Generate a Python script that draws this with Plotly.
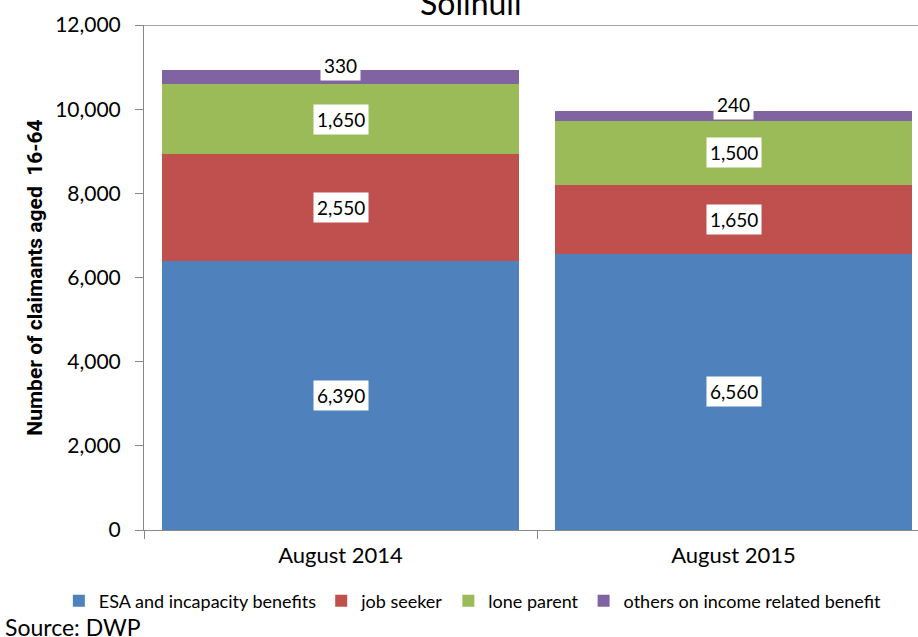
import plotly.graph_objects as go

categories = ["August 2014", "August 2015"]
series_names = ["ESA and incapacity benefits", "job seeker", "lone parent", "others on income related benefit"]
esa = [6390, 6560]
job_seeker = [2550, 1650]
lone_parent = [1650, 1500]
others = [330, 240]
colors = ["#4F81BD", "#C0504D", "#9BBB59", "#8064A2"]
y_ticks = [0, 2000, 4000, 6000, 8000, 10000, 12000]

series = [esa, job_seeker, lone_parent, others]
FONT = "Lato, 'Open Sans', Arial, sans-serif"

fig = go.Figure()
for name, vals, col in zip(series_names, series, colors):
    fig.add_trace(go.Bar(x=categories, y=vals, name=name, marker=dict(color=col, line=dict(width=0))))

annotations = []
for ci, cat in enumerate(categories):
    base = 0
    for si, vals in enumerate(series):
        v = vals[ci]
        center = base + v / 2
        annotations.append(dict(
            x=cat, y=center, xref="x", yref="y", text=f"{v:,}", showarrow=False,
            bgcolor="white", borderpad=3, font=dict(size=19, color="black", family=FONT),
            yshift=12 if si == 3 else 0,
        ))
        base += v

annotations.append(dict(x=0.4212, y=1.045, xref="paper", yref="paper", text="Solihull",
                        showarrow=False, yanchor="middle", font=dict(size=32, color="black", family=FONT)))
annotations.append(dict(x=-0.1822, y=-0.192, xref="paper", yref="paper", text="Source: DWP",
                        showarrow=False, xanchor="left", yanchor="middle",
                        font=dict(size=23, color="black", family=FONT)))

fig.update_layout(
    barmode="stack",
    bargap=0.092,
    width=918, height=637,
    margin=dict(l=144, r=0, t=25, b=107),
    paper_bgcolor="white", plot_bgcolor="white",
    font=dict(family=FONT, color="black", size=15),
    showlegend=True,
    legend=dict(orientation="h", xref="paper", yref="paper", x=-0.11, xanchor="left",
                y=-0.1406, yanchor="middle", itemwidth=30, tracegroupgap=0,
                font=dict(size=18, family=FONT), traceorder="normal"),
    annotations=annotations,
    xaxis=dict(range=[-0.5, -0.5 + 774 / 393], showline=True, linecolor="#888888", linewidth=1,
               ticks="outside", ticklen=8, tickcolor="#888888", tickson="boundaries", showgrid=False,
               tickfont=dict(size=22), ticklabelstandoff=6),
    yaxis=dict(range=[0, 12000], tickvals=y_ticks, tickformat=",", showline=True,
               linecolor="#888888", linewidth=1, ticks="outside", ticklen=8, tickcolor="#888888",
               showgrid=False, tickfont=dict(size=21), ticklabelstandoff=10,
               title=dict(text="<b>Number of claimants aged  16-64</b>",
                          font=dict(size=21, weight="bold", family="Roboto, Lato, sans-serif"),
                          standoff=6)),
    shapes=[dict(type="line", xref="paper", yref="y", x0=-0.01, x1=1, y0=12000, y1=12000,
                 line=dict(color="#888888", width=1.5))],
)

fig.write_html("out.html", config={"displayModeBar": False},
               post_script="document.body.style.margin='0';document.body.style.padding='0';")
